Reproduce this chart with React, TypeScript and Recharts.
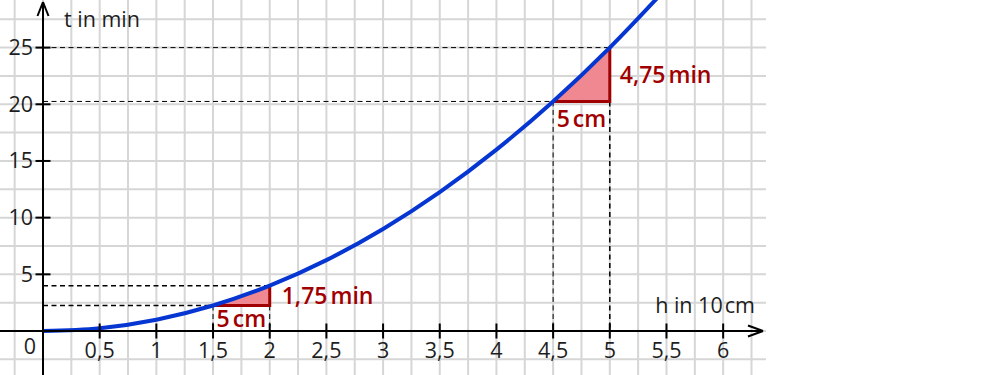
import { ComposedChart, Line, Area, XAxis, YAxis, ReferenceLine, ReferenceDot } from 'recharts'

// values: t (min) against h (10 cm)
const curveH = [0, 0.5, 1, 1.5, 2, 2.5, 3, 3.5, 4, 4.5, 5, 5.5]
const curveT = [0, 0.25, 1, 2.25, 4, 6.25, 9, 12.25, 16, 20.25, 25, 30.25]

// the two slope triangles (start point, midpoint on the curve, end point)
const lowTriH = [1.5, 1.75, 2]
const lowTriT = [2.25, 3.06, 4]
const highTriH = [4.5, 4.75, 5]
const highTriT = [20.25, 22.56, 25]

const xTicks = [0.5, 1, 1.5, 2, 2.5, 3, 3.5, 4, 4.5, 5, 5.5, 6]
const xTickLabels = ['0,5', '1', '1,5', '2', '2,5', '3', '3,5', '4', '4,5', '5', '5,5', '6']
const yTicks = [5, 10, 15, 20, 25]

const gridH = [-0.25, 0, 0.25, 0.5, 0.75, 1, 1.25, 1.5, 1.75, 2, 2.25, 2.5, 2.75, 3, 3.25, 3.5, 3.75, 4, 4.25, 4.5, 4.75, 5, 5.25, 5.5, 5.75, 6, 6.25]
const gridT = [-2.5, 0, 2.5, 5, 7.5, 10, 12.5, 15, 17.5, 20, 22.5, 25, 27.5]

// layout: pixel origin and scale of the picture
const W = 1000
const H = 375
const OX = 43
const OY = 331
const PXH = 113.36
const PXT = 11.336
const X_MIN = -OX / PXH
const X_MAX = (W - OX) / PXH
const Y_MIN = -(H - OY) / PXT
const Y_MAX = OY / PXT
const GRID_RIGHT = (766 - OX) / PXH
const ph = (px: number) => px / PXH
const pt = (px: number) => px / PXT

const BLUE = '#0636d2'
const RED = '#a00000'
const PINK = '#ef8891'
const GRID = '#d6d6d6'
const INK = '#1e1e1e'
const FONT = '"Open Sans", "Noto Sans", sans-serif'

const toRows = (hs: number[], ts: number[]) => hs.map((h, i) => ({ h, t: ts[i] }))

const seg = (x1: number, y1: number, x2: number, y2: number) => [
  { x: x1, y: y1 },
  { x: x2, y: y2 },
]

function label(text: string, dx: number, dy: number, anchor: string, fill: string, unit?: string, red?: boolean) {
  return (p: any) => (
    <text
      x={p.cx + dx}
      y={p.cy + dy}
      textAnchor={anchor}
      fill={fill}
      fontSize={red ? 23 : 21.5}
      fontWeight={red ? 600 : 400}
      fontFamily={FONT}
    >
      {text}
      {unit ? <tspan dx={red ? 3 : 2}>{unit}</tspan> : null}
    </text>
  )
}

export default function App() {
  const dashed = (x1: number, y1: number, x2: number, y2: number, w: number, key: string) => (
    <ReferenceLine
      key={key}
      segment={seg(x1, y1, x2, y2)}
      stroke="#000"
      strokeWidth={w}
      strokeDasharray="5 3.5"
      ifOverflow="visible"
      zIndex={-50}
    />
  )
  const axisSeg = (x1: number, y1: number, x2: number, y2: number, key: string) => (
    <ReferenceLine key={key} segment={seg(x1, y1, x2, y2)} stroke="#000" strokeWidth={2} ifOverflow="visible" zIndex={500} />
  )

  return (
    <div style={{ position: 'absolute', left: 0, top: 0, width: W, height: H, background: '#fff' }}>
      <ComposedChart width={W} height={H} margin={{ top: 0, right: 0, bottom: 0, left: 0 }}>
        <XAxis type="number" dataKey="h" domain={[X_MIN, X_MAX]} allowDataOverflow hide />
        <YAxis type="number" dataKey="t" domain={[Y_MIN, Y_MAX]} allowDataOverflow hide width={0} />

        {gridT.map((t) => (
          <ReferenceLine key={'gt' + t} segment={seg(X_MIN, t, GRID_RIGHT, t)} stroke={GRID} strokeWidth={2} ifOverflow="visible" zIndex={-100} />
        ))}
        {gridH.map((h) => (
          <ReferenceLine key={'gh' + h} segment={seg(h, Y_MIN, h, Y_MAX)} stroke={GRID} strokeWidth={2} ifOverflow="visible" zIndex={-100} />
        ))}

        {dashed(0, 25, 5, 25, 1, 'd1')}
        {dashed(0, 20.25, 4.5, 20.25, 1, 'd2')}
        {dashed(4.5, 20.25, 4.5, 0, 1, 'd3')}
        {dashed(5, 20.25, 5, 0, 1.5, 'd4')}
        {dashed(0, 4, 2, 4, 1.5, 'd5')}
        {dashed(0, 2.25, 1.5, 2.25, 1.5, 'd6')}
        {dashed(1.5, 2.25, 1.5, 0, 1, 'd7')}
        {dashed(2, 2.25, 2, 0, 1, 'd8')}

        <Area
          data={toRows(lowTriH, lowTriT)}
          dataKey="t"
          type="monotone"
          baseValue={2.25}
          fill={PINK}
          fillOpacity={1}
          stroke="none"
          dot={false}
          activeDot={false}
          isAnimationActive={false}
          zIndex={100}
        />
        <Area
          data={toRows(highTriH, highTriT)}
          dataKey="t"
          type="monotone"
          baseValue={20.25}
          fill={PINK}
          fillOpacity={1}
          stroke="none"
          dot={false}
          activeDot={false}
          isAnimationActive={false}
          zIndex={100}
        />
        <Line
          data={toRows([lowTriH[0], lowTriH[2], lowTriH[2]], [lowTriT[0], lowTriT[0], lowTriT[2]])}
          dataKey="t"
          type="linear"
          stroke={RED}
          strokeWidth={3}
          dot={false}
          activeDot={false}
          isAnimationActive={false}
          zIndex={300}
        />
        <Line
          data={toRows([highTriH[0], highTriH[2], highTriH[2]], [highTriT[0], highTriT[0], highTriT[2]])}
          dataKey="t"
          type="linear"
          stroke={RED}
          strokeWidth={3}
          dot={false}
          activeDot={false}
          isAnimationActive={false}
          zIndex={300}
        />
        <Line
          data={toRows(curveH, curveT)}
          dataKey="t"
          type="monotone"
          stroke={BLUE}
          strokeWidth={4}
          dot={false}
          activeDot={false}
          isAnimationActive={false}
          zIndex={400}
        />

        {/* axes with open arrow heads */}
        {axisSeg(X_MIN, 0, ph(763 - OX), 0, 'ax')}
        {axisSeg(0, Y_MIN, 0, pt(OY - 2), 'ay')}
        {axisSeg(ph(748 - OX), pt(5.5), ph(763 - OX), 0, 'ax1')}
        {axisSeg(ph(748 - OX), -pt(5.5), ph(763 - OX), 0, 'ax2')}
        {axisSeg(-ph(5.5), pt(OY - 16), 0, pt(OY - 2), 'ay1')}
        {axisSeg(ph(5.5), pt(OY - 16), 0, pt(OY - 2), 'ay2')}
        {xTicks.map((h) => axisSeg(h, -pt(7.5), h, pt(7.5), 'xt' + h))}
        {yTicks.map((t) => axisSeg(-ph(7.5), t, ph(7.5), t, 'yt' + t))}

        {xTicks.map((h, i) => (
          <ReferenceDot key={'xl' + h} x={h} y={0} r={0} ifOverflow="visible" zIndex={2000} shape={label(xTickLabels[i], 0, 27, 'middle', INK)} />
        ))}
        {yTicks.map((t) => (
          <ReferenceDot key={'yl' + t} x={0} y={t} r={0} ifOverflow="visible" zIndex={2000} shape={label(String(t), -10, 7.5, 'end', INK)} />
        ))}
        <ReferenceDot x={0} y={0} r={0} ifOverflow="visible" zIndex={2000} shape={label('0', -13, 23, 'middle', INK)} />
        <ReferenceDot x={0} y={27.5} r={0} ifOverflow="visible" zIndex={2000} shape={label('t in min', 21, 8, 'start', INK)} />
        <ReferenceDot x={6} y={0} r={0} ifOverflow="visible" zIndex={2000} shape={label('h in 10', -68, -18, 'start', INK, 'cm')} />

        <ReferenceDot x={1.75} y={2.25} r={0} ifOverflow="visible" zIndex={2000} shape={label('5', 0, 22, 'middle', RED, 'cm', true)} />
        <ReferenceDot x={4.75} y={20.25} r={0} ifOverflow="visible" zIndex={2000} shape={label('5', 0, 26, 'middle', RED, 'cm', true)} />
        <ReferenceDot x={2} y={3.125} r={0} ifOverflow="visible" zIndex={2000} shape={label('1,75', 12, 8, 'start', RED, 'min', true)} />
        <ReferenceDot x={5} y={22.625} r={0} ifOverflow="visible" zIndex={2000} shape={label('4,75', 10, 8, 'start', RED, 'min', true)} />
      </ComposedChart>
    </div>
  )
}
